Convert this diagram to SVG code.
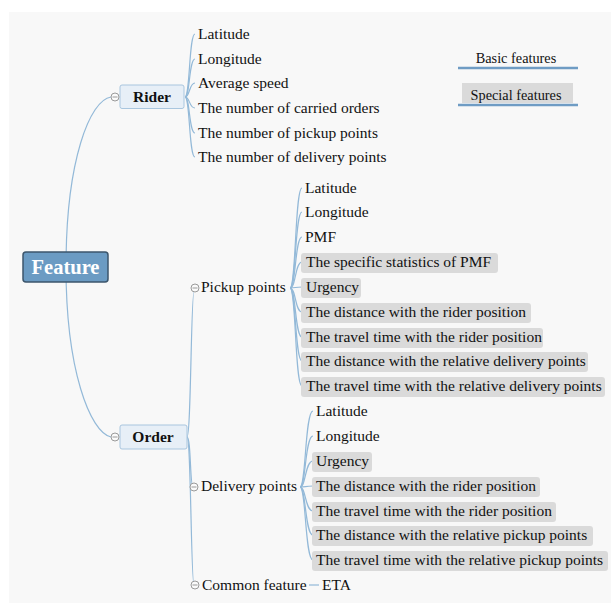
<svg xmlns="http://www.w3.org/2000/svg" width="611" height="603" viewBox="0 0 611 603">
<style>
text{font-family:"Liberation Serif","Times New Roman",serif;fill:#111;font-size:15.5px}
.b{font-weight:bold}
.conn path{fill:none;stroke:#93b9d8;stroke-width:1.2}
.hl{fill:#dadada}
.col circle{fill:#fafafa;stroke:#9a9a9a;stroke-width:1}
.col line{stroke:#9a9a9a;stroke-width:1}
.lg{stroke:#6f9cc4;stroke-width:2.5}
</style>
<rect x="0" y="0" width="611" height="603" fill="#ffffff"/>
<rect x="9" y="12" width="602" height="591" fill="#f8f8f8"/>

<g id="connectors" class="conn">
<path d="M66,267 C66,160 90,100 111,97"/>
<path d="M66,267 C66,370 90,432 111,437"/>
<path d="M185,97 C190,97 189,34 195,34"/>
<path d="M185,97 C190,97 189,59 195,59"/>
<path d="M185,97 C190,97 189,83 195,83"/>
<path d="M185,97 C190,97 189,108 195,108"/>
<path d="M185,97 C190,97 189,133 195,133"/>
<path d="M185,97 C190,97 189,157 195,157"/>
<path d="M187,437 C191,437 191,292 194,292"/>
<path d="M187,437 C191,437 190,487 193,487"/>
<path d="M187,437 C191,437 191,585 194,585"/>
<path d="M290,288 C296,288 295,188 302,188"/>
<path d="M290,288 C296,288 295,212 302,212"/>
<path d="M290,288 C296,288 295,237 302,237"/>
<path d="M290,288 C296,288 295,262 302,262"/>
<path d="M290,288 C296,288 295,287 302,287"/>
<path d="M290,288 C296,288 295,312 302,312"/>
<path d="M290,288 C296,288 295,337 302,337"/>
<path d="M290,288 C296,288 295,361 302,361"/>
<path d="M290,288 C296,288 295,386 302,386"/>
<path d="M300,487 C306,487 305,411 313,411"/>
<path d="M300,487 C306,487 305,436 313,436"/>
<path d="M300,487 C306,487 305,461 313,461"/>
<path d="M300,487 C306,487 305,486 313,486"/>
<path d="M300,487 C306,487 305,511 313,511"/>
<path d="M300,487 C306,487 305,535 313,535"/>
<path d="M300,487 C306,487 305,560 313,560"/>
<path d="M309,585 L319,585"/>
</g>

<g id="legend">
<text x="516" y="63" text-anchor="middle" style="font-size:14.3px">Basic features</text>
<line class="lg" x1="458" y1="68" x2="578" y2="68"/>
<rect x="462" y="83" width="111" height="20" class="hl"/>
<text x="516" y="100" text-anchor="middle" style="font-size:14.3px">Special features</text>
<line class="lg" x1="458" y1="105" x2="578" y2="105"/>
</g>

<g id="feature">
<rect x="23" y="252" width="85" height="30" rx="3" fill="#6b9bc3" stroke="#3c566c" stroke-width="1.5"/>
<text x="65.5" y="274" text-anchor="middle" class="b" style="font-size:20.5px;fill:#ffffff">Feature</text>
</g>

<g id="rider">
<rect x="120" y="85" width="64" height="23.5" rx="2" fill="#e7eff7" stroke="#a9c6df" stroke-width="1"/>
<text x="152" y="102" text-anchor="middle" class="b">Rider</text>
<g class="col"><circle cx="115" cy="97" r="4"/><line x1="112.5" y1="97" x2="117.5" y2="97"/></g>
</g>
<g id="rider-items">
<text x="198" y="39">Latitude</text>
<text x="198" y="64">Longitude</text>
<text x="198" y="88">Average speed</text>
<text x="198" y="113">The number of carried orders</text>
<text x="198" y="138">The number of pickup points</text>
<text x="198" y="162">The number of delivery points</text>
</g>

<g id="order">
<rect x="120" y="425" width="67" height="24" rx="2" fill="#e7eff7" stroke="#a9c6df" stroke-width="1"/>
<text x="153" y="442" text-anchor="middle" class="b">Order</text>
<g class="col"><circle cx="115" cy="437" r="4"/><line x1="112.5" y1="437" x2="117.5" y2="437"/></g>
</g>

<g id="pickup">
<g class="col"><circle cx="195" cy="288" r="4"/><line x1="192.5" y1="288" x2="197.5" y2="288"/></g>
<text x="201" y="292">Pickup points</text>
</g>
<g id="pickup-items">
<rect class="hl" x="301" y="253" width="197" height="20" rx="3"/>
<rect class="hl" x="301" y="278" width="60" height="20" rx="3"/>
<rect class="hl" x="301" y="303" width="230" height="20" rx="3"/>
<rect class="hl" x="301" y="328" width="242" height="20" rx="3"/>
<rect class="hl" x="301" y="352" width="287" height="20" rx="3"/>
<rect class="hl" x="301" y="377" width="304" height="20" rx="3"/>
<text x="305" y="193">Latitude</text>
<text x="305" y="217">Longitude</text>
<text x="305" y="242">PMF</text>
<text x="306" y="267">The specific statistics of PMF</text>
<text x="306" y="292">Urgency</text>
<text x="306" y="317">The distance with the rider position</text>
<text x="306" y="342">The travel time with the rider position</text>
<text x="306" y="366">The distance with the relative delivery points</text>
<text x="306" y="391">The travel time with the relative delivery points</text>
</g>

<g id="delivery">
<g class="col"><circle cx="194" cy="487" r="4"/><line x1="191.5" y1="487" x2="196.5" y2="487"/></g>
<text x="201" y="491">Delivery points</text>
</g>
<g id="delivery-items">
<rect class="hl" x="312" y="452" width="60" height="20" rx="3"/>
<rect class="hl" x="312" y="477" width="228" height="20" rx="3"/>
<rect class="hl" x="312" y="502" width="244" height="20" rx="3"/>
<rect class="hl" x="312" y="526" width="281" height="20" rx="3"/>
<rect class="hl" x="312" y="551" width="296" height="20" rx="3"/>
<text x="316" y="416">Latitude</text>
<text x="316" y="441">Longitude</text>
<text x="316" y="466">Urgency</text>
<text x="316" y="491">The distance with the rider position</text>
<text x="316" y="516">The travel time with the rider position</text>
<text x="316" y="540">The distance with the relative pickup points</text>
<text x="316" y="565">The travel time with the relative pickup points</text>
</g>

<g id="common">
<g class="col"><circle cx="195" cy="585" r="4"/><line x1="192.5" y1="585" x2="197.5" y2="585"/></g>
<text x="202" y="590">Common feature</text>
</g>
<g id="eta">
<text x="322" y="590">ETA</text>
</g>
</svg>
